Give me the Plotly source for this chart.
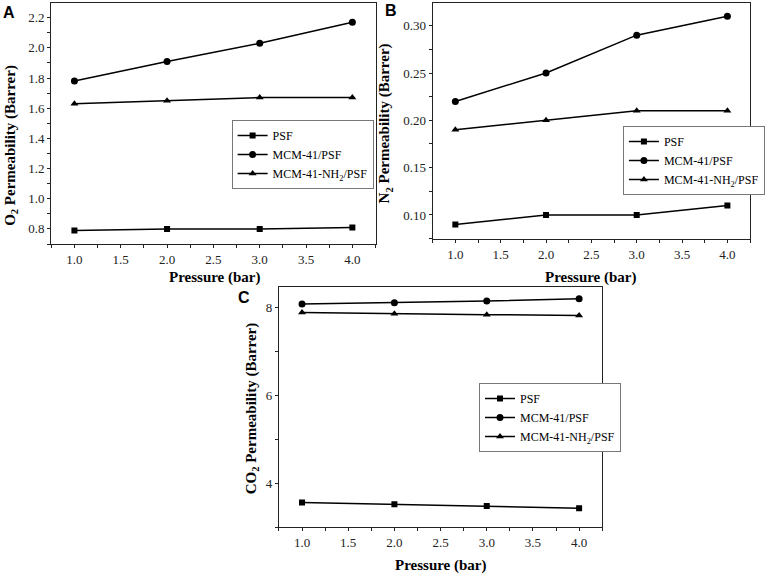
import plotly.graph_objects as go

W, H = 765, 576

pressure = [1.0, 2.0, 3.0, 4.0]
series_names = ["PSF", "MCM-41/PSF", "MCM-41-NH<sub>2</sub>/PSF"]
symbols = ["square", "circle", "triangle-up"]

o2_psf = [0.79, 0.80, 0.80, 0.81]
o2_mcm = [1.78, 1.91, 2.03, 2.17]
o2_nh2 = [1.63, 1.65, 1.67, 1.67]

n2_psf = [0.09, 0.10, 0.10, 0.11]
n2_mcm = [0.22, 0.25, 0.29, 0.31]
n2_nh2 = [0.19, 0.20, 0.21, 0.21]

co2_psf = [3.56, 3.52, 3.48, 3.43]
co2_mcm = [8.08, 8.11, 8.15, 8.20]
co2_nh2 = [7.89, 7.86, 7.84, 7.82]

SERIF = "Liberation Serif"


def px_x(p):
    return p / W


def px_y(p):
    return 1 - p / H


fig = go.Figure()

panels = [
    # (xaxis id, yaxis id, legend id, data)
    ("x", "y", "legend", [o2_psf, o2_mcm, o2_nh2]),
    ("x2", "y2", "legend2", [n2_psf, n2_mcm, n2_nh2]),
    ("x3", "y3", "legend3", [co2_psf, co2_mcm, co2_nh2]),
]

for xa, ya, lg, data in panels:
    for name, sym, vals in zip(series_names, symbols, data):
        fig.add_trace(go.Scatter(
            x=pressure, y=vals, name=name, xaxis=xa, yaxis=ya, legend=lg,
            mode="lines+markers",
            line=dict(color="black", width=1.5),
            marker=dict(symbol=sym, size=7 if sym != "square" else 6, color="black"),
        ))

axis_common = dict(
    showline=True, linecolor="#222", linewidth=1.2, mirror=True,
    ticks="outside", ticklen=3, tickcolor="#222", showgrid=False, zeroline=False,
    tickfont=dict(family=SERIF, size=13, color="#222"),
)

x_common = dict(axis_common, range=[0.75, 4.25], dtick=0.5, tick0=0, tickformat=".1f",
                minor=dict(dtick=0.25, ticks="outside", ticklen=3, tickcolor="#222"))

fig.update_layout(
    width=W, height=H,
    margin=dict(l=0, r=0, t=0, b=0),
    plot_bgcolor="white", paper_bgcolor="white",
    xaxis=dict(x_common, domain=[px_x(52), px_x(381)], anchor="y"),
    yaxis=dict(axis_common, domain=[px_y(244), px_y(3)], anchor="x",
               range=[0.70, 2.297], dtick=0.2, tick0=0, tickformat=".1f",
               minor=dict(dtick=0.1, ticks="outside", ticklen=3, tickcolor="#222")),
    xaxis2=dict(x_common, domain=[px_x(439), px_x(761)], anchor="y2"),
    yaxis2=dict(axis_common, domain=[px_y(239), px_y(3)], anchor="x2",
                range=[0.0746, 0.324], dtick=0.05, tick0=0, tickformat=".2f",
                minor=dict(dtick=0.025, ticks="outside", ticklen=3, tickcolor="#222")),
    xaxis3=dict(x_common, domain=[px_x(283), px_x(611)], anchor="y3"),
    yaxis3=dict(axis_common, domain=[px_y(527), px_y(287)], anchor="x3",
                range=[3.0, 8.47], dtick=2, tick0=0,
                minor=dict(dtick=1, ticks="outside", ticklen=3, tickcolor="#222")),
)

legend_style = dict(
    bgcolor="white", bordercolor="#777", borderwidth=1,
    font=dict(family=SERIF, size=12, color="black"),
    xanchor="left", yanchor="top", tracegroupgap=0,
)
fig.update_layout(
    legend=dict(legend_style, x=px_x(235), y=px_y(120)),
    legend2=dict(legend_style, x=px_x(632), y=px_y(126)),
    legend3=dict(legend_style, x=px_x(486), y=px_y(383)),
)

title_font = dict(family=SERIF, size=15, color="black")
letter_font = dict(family="Liberation Sans", size=16, color="black")

annotations = [
    # y axis titles
    dict(text="<b>O<sub>2</sub> Permeability (Barrer)</b>", x=px_x(11), y=px_y(145), textangle=-90),
    dict(text="<b>N<sub>2</sub> Permeability (Barrer)</b>", x=px_x(391), y=px_y(123), textangle=-90),
    dict(text="<b>CO<sub>2</sub> Permeability (Barrer)</b>", x=px_x(256), y=px_y(408), textangle=-90),
    # x axis titles
    dict(text="<b>Pressure (bar)</b>", x=px_x(218), y=px_y(277)),
    dict(text="<b>Pressure (bar)</b>", x=px_x(600), y=px_y(277)),
    dict(text="<b>Pressure (bar)</b>", x=px_x(447), y=px_y(565)),
]
for a in annotations:
    fig.add_annotation(a, xref="paper", yref="paper", showarrow=False,
                       xanchor="center", yanchor="middle", font=title_font)

for letter, lx, ly in [("A", 9, 12), ("B", 397, 10), ("C", 248, 297)]:
    fig.add_annotation(text="<b>" + letter + "</b>", x=px_x(lx), y=px_y(ly),
                       xref="paper", yref="paper", showarrow=False,
                       xanchor="center", yanchor="middle", font=letter_font)

# page body has a default margin, drop it so the figure sits at the window corner
fig.write_html("out.html", config={"displayModeBar": False},
               post_script="document.body.style.margin='0';")
